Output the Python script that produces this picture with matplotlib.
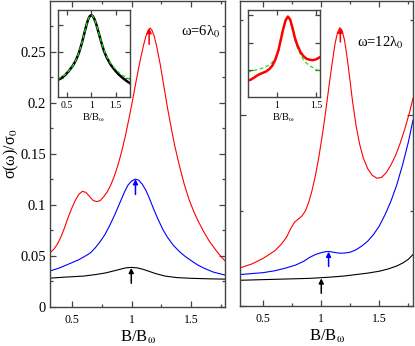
import matplotlib
matplotlib.use('Agg')
import matplotlib.pyplot as plt
from matplotlib.ticker import MultipleLocator, FuncFormatter

plt.rcParams['font.family'] = ['Liberation Serif', 'DejaVu Serif']
plt.rcParams['mathtext.fontset'] = 'stix'

# ---- left panel (omega = 6 lambda_0) ----
l_red_x = [0.32, 0.35, 0.38, 0.41, 0.44, 0.47, 0.50, 0.53, 0.56, 0.59, 0.62, 0.65, 0.68, 0.71,
           0.74, 0.77, 0.80, 0.83, 0.86, 0.89, 0.92, 0.95, 0.98, 1.01, 1.04, 1.07, 1.10, 1.12,
           1.14, 1.155, 1.17, 1.19, 1.21, 1.24, 1.27, 1.30, 1.33, 1.36, 1.40, 1.44, 1.48, 1.52,
           1.56, 1.60, 1.65, 1.70, 1.74, 1.78]
l_red_y = [0.053, 0.056, 0.061, 0.068, 0.077, 0.087, 0.096, 0.104, 0.110, 0.113, 0.112, 0.108,
           0.104, 0.103, 0.104, 0.108, 0.113, 0.120, 0.129, 0.140, 0.153, 0.168, 0.185, 0.203,
           0.222, 0.240, 0.256, 0.265, 0.271, 0.273, 0.271, 0.265, 0.255, 0.237, 0.216, 0.195,
           0.176, 0.158, 0.138, 0.120, 0.105, 0.093, 0.083, 0.074, 0.064, 0.056, 0.050, 0.045]
l_blue_x = [0.32, 0.40, 0.48, 0.56, 0.62, 0.66, 0.70, 0.74, 0.78, 0.82, 0.86, 0.90, 0.94, 0.97,
            1.00, 1.03, 1.06, 1.09, 1.12, 1.15, 1.18, 1.22, 1.26, 1.30, 1.35, 1.40, 1.45, 1.50,
            1.55, 1.60, 1.68, 1.78]
l_blue_y = [0.035, 0.038, 0.042, 0.046, 0.050, 0.053, 0.058, 0.064, 0.071, 0.080, 0.090, 0.101,
            0.112, 0.119, 0.123, 0.125, 0.124, 0.120, 0.114, 0.106, 0.097, 0.086, 0.076, 0.068,
            0.060, 0.054, 0.049, 0.045, 0.041, 0.038, 0.034, 0.031]
l_black_x = [0.32, 0.45, 0.60, 0.70, 0.78, 0.85, 0.90, 0.95, 1.00, 1.05, 1.10, 1.15, 1.20, 1.28,
             1.38, 1.50, 1.65, 1.78]
l_black_y = [0.028, 0.029, 0.030, 0.0315, 0.033, 0.035, 0.0365, 0.038, 0.0385, 0.038, 0.0365,
             0.0345, 0.0325, 0.030, 0.0285, 0.0278, 0.0273, 0.027]
l_arrows = [(1.147, 0.257, 0.273, 'red'), (1.033, 0.110, 0.125, 'blue'), (0.998, 0.023, 0.038, 'black')]

# left inset (normalised units)
li_x = [0.30, 0.38, 0.46, 0.54, 0.62, 0.68, 0.74, 0.80, 0.85, 0.90, 0.94, 0.97, 1.00, 1.03,
        1.06, 1.10, 1.15, 1.20, 1.26, 1.32, 1.40, 1.48, 1.56, 1.64, 1.72, 1.80]
li_black = [0.19, 0.215, 0.25, 0.30, 0.36, 0.42, 0.50, 0.61, 0.72, 0.83, 0.90, 0.93, 0.94, 0.93,
            0.90, 0.84, 0.74, 0.64, 0.53, 0.45, 0.37, 0.31, 0.26, 0.22, 0.185, 0.155]
li_green = [0.205, 0.225, 0.255, 0.30, 0.36, 0.42, 0.50, 0.61, 0.72, 0.83, 0.90, 0.93, 0.94, 0.93,
            0.90, 0.84, 0.74, 0.645, 0.54, 0.46, 0.385, 0.33, 0.285, 0.25, 0.22, 0.20]

# ---- right panel (omega = 12 lambda_0) ----
r_red_x = [0.30, 0.35, 0.40, 0.45, 0.50, 0.55, 0.60, 0.65, 0.70, 0.74, 0.77, 0.80, 0.83, 0.86,
           0.89, 0.92, 0.95, 0.98, 1.01, 1.04, 1.07, 1.10, 1.12, 1.14, 1.16, 1.18, 1.20, 1.22,
           1.24, 1.27, 1.30, 1.33, 1.36, 1.40, 1.44, 1.48, 1.52, 1.56, 1.60, 1.64, 1.68, 1.72,
           1.76, 1.79]
r_red_y = [0.040, 0.042, 0.044, 0.047, 0.050, 0.054, 0.058, 0.064, 0.072, 0.082, 0.088, 0.091,
           0.094, 0.099, 0.108, 0.121, 0.137, 0.157, 0.180, 0.206, 0.234, 0.260, 0.276, 0.287,
           0.292, 0.289, 0.279, 0.263, 0.244, 0.214, 0.189, 0.170, 0.156, 0.144, 0.137, 0.134,
           0.135, 0.140, 0.148, 0.158, 0.171, 0.186, 0.203, 0.218]
r_blue_x = [0.30, 0.40, 0.50, 0.60, 0.70, 0.78, 0.85, 0.90, 0.95, 1.00, 1.04, 1.07, 1.10, 1.15,
            1.20, 1.25, 1.30, 1.35, 1.40, 1.45, 1.50, 1.55, 1.60, 1.65, 1.70, 1.75, 1.79]
r_blue_y = [0.033, 0.034, 0.035, 0.037, 0.040, 0.043, 0.047, 0.051, 0.054, 0.056, 0.057, 0.0572,
            0.0565, 0.0555, 0.0555, 0.0565, 0.059, 0.063, 0.068, 0.075, 0.084, 0.096, 0.110,
            0.127, 0.148, 0.172, 0.195]
r_black_x = [0.30, 0.45, 0.60, 0.75, 0.90, 1.00, 1.10, 1.20, 1.30, 1.40, 1.50, 1.58, 1.65, 1.70,
             1.75, 1.79]
r_black_y = [0.027, 0.0275, 0.028, 0.0285, 0.029, 0.0297, 0.0305, 0.0315, 0.033, 0.0345, 0.0365,
             0.039, 0.042, 0.045, 0.049, 0.054]
r_arrows = [(1.164, 0.277, 0.292, 'red'), (1.063, 0.0415, 0.057, 'blue'), (1.0, 0.0134, 0.029, 'black')]

# right inset (normalised units)
ri_x = [0.625, 0.66, 0.70, 0.74, 0.78, 0.82, 0.86, 0.90, 0.94, 0.98, 1.02, 1.05, 1.08, 1.11,
        1.14, 1.17, 1.20, 1.23, 1.26, 1.30, 1.34, 1.38, 1.42, 1.46, 1.50, 1.55]
ri_red = [0.19, 0.20, 0.22, 0.245, 0.265, 0.28, 0.295, 0.32, 0.36, 0.43, 0.54, 0.66, 0.78, 0.88,
          0.925, 0.89, 0.79, 0.68, 0.60, 0.52, 0.47, 0.44, 0.43, 0.425, 0.435, 0.46]
ri_green = [0.29, 0.295, 0.305, 0.315, 0.325, 0.335, 0.35, 0.37, 0.40, 0.45, 0.54, 0.65, 0.77,
            0.88, 0.925, 0.88, 0.77, 0.66, 0.57, 0.49, 0.43, 0.39, 0.36, 0.34, 0.32, 0.30]

SPINE = '#444444'
BOMEGA = 'B/B$_{\\mathrm{\\omega}}$'


def style_axes(ax, xmaj, xmin, ymaj, ymin, big=True):
    ax.xaxis.set_major_locator(MultipleLocator(xmaj))
    ax.xaxis.set_minor_locator(MultipleLocator(xmin))
    if ymaj is not None:
        ax.yaxis.set_major_locator(MultipleLocator(ymaj))
        ax.yaxis.set_minor_locator(MultipleLocator(ymin))
    L = 4.5 if big else 3.5
    ax.tick_params(which='major', direction='in', top=True, right=True, length=L,
                   width=0.9, color=SPINE)
    ax.tick_params(which='minor', direction='in', top=True, right=True, length=L / 2,
                   width=0.9, color=SPINE)
    for s in ax.spines.values():
        s.set_color(SPINE)
        s.set_linewidth(1.0)
    ax.xaxis.set_major_formatter(FuncFormatter(lambda v, p: '%g' % v))


def draw_arrows(ax, arrows):
    for x, y0, y1, c in arrows:
        ax.annotate('', xy=(x, y1), xytext=(x, y0),
                    arrowprops=dict(arrowstyle='-|>', color=c, lw=1.1, mutation_scale=7,
                                    shrinkA=0, shrinkB=0))


fig = plt.figure(figsize=(4.15, 3.46), dpi=100)

# left main
ax1 = fig.add_axes((50 / 415, 39.3 / 346, 175 / 415, 305.7 / 346))
ax1.plot(l_red_x, l_red_y, color='red', lw=0.8)
ax1.plot(l_blue_x, l_blue_y, color='blue', lw=0.8)
ax1.plot(l_black_x, l_black_y, color='black', lw=0.8)
draw_arrows(ax1, l_arrows)
ax1.set_xlim(0.32, 1.78)
ax1.set_ylim(0, 0.2995)
style_axes(ax1, 0.5, 0.25, 0.05, 0.025)
ax1.yaxis.set_major_formatter(FuncFormatter(lambda v, p: '%g' % v))
ax1.tick_params(axis='y', labelsize=10.5, pad=3)
ax1.tick_params(axis='x', labelsize=8.5, pad=5)
ax1.set_ylabel('σ(ω)/σ$_0$', fontsize=11.5)
ax1.yaxis.set_label_coords(-0.165, 0.5)
ax1.set_xlabel(BOMEGA, fontsize=12, labelpad=2)
ax1.text(1.41, 0.269, 'ω=6λ$_0$', fontsize=10.5, va='center')

# right main
ax2 = fig.add_axes((240 / 415, 40 / 346, 173 / 415, 305 / 346))
ax2.plot(r_red_x, r_red_y, color='red', lw=0.8)
ax2.plot(r_blue_x, r_blue_y, color='blue', lw=0.8)
ax2.plot(r_black_x, r_black_y, color='black', lw=0.8)
draw_arrows(ax2, r_arrows)
ax2.set_xlim(0.30, 1.79)
ax2.set_ylim(0, 0.32)
style_axes(ax2, 0.5, 0.25, 0.2, 0.1)
ax2.tick_params(axis='y', labelleft=False)
ax2.tick_params(axis='x', labelsize=8.5, pad=5)
ax2.set_xlabel(BOMEGA, fontsize=12, labelpad=2)
ax2.text(1.31, 0.276, 'ω=12λ$_0$', fontsize=10.5, va='center')

# left inset
ia = fig.add_axes((57.5 / 415, 249.3 / 346, 72.5 / 415, 86.7 / 346))
ia.plot(li_x, li_black, color='black', lw=1.8)
ia.plot(li_x, li_green, color='#22dd22', lw=0.9, ls=(0, (3, 2)))
ia.set_xlim(0.3, 1.8)
ia.set_ylim(0, 1)
style_axes(ia, 0.5, 0.5, None, None, big=False)
ia.set_yticks([0.21, 0.52, 0.83])
ia.tick_params(axis='y', labelleft=False)
ia.tick_params(axis='x', labelsize=7, pad=3)
ia.set_xlabel(BOMEGA, fontsize=7.5, labelpad=1)

# right inset
ib = fig.add_axes((247.5 / 415, 248.7 / 346, 72.5 / 415, 87.3 / 346))
ib.plot(ri_x, ri_green, color='#22dd22', lw=0.9, ls=(0, (3, 2)))
ib.plot(ri_x, ri_red, color='red', lw=1.8)
ib.set_xlim(0.625, 1.55)
ib.set_ylim(0, 1)
style_axes(ib, 0.5, 0.5, None, None, big=False)
ib.set_yticks([0.31, 0.625, 0.94])
ib.tick_params(axis='y', labelleft=False)
ib.tick_params(axis='x', labelsize=7, pad=3)
ib.set_xlabel(BOMEGA, fontsize=7.5, labelpad=1)

fig.savefig('out.png', dpi=100)
